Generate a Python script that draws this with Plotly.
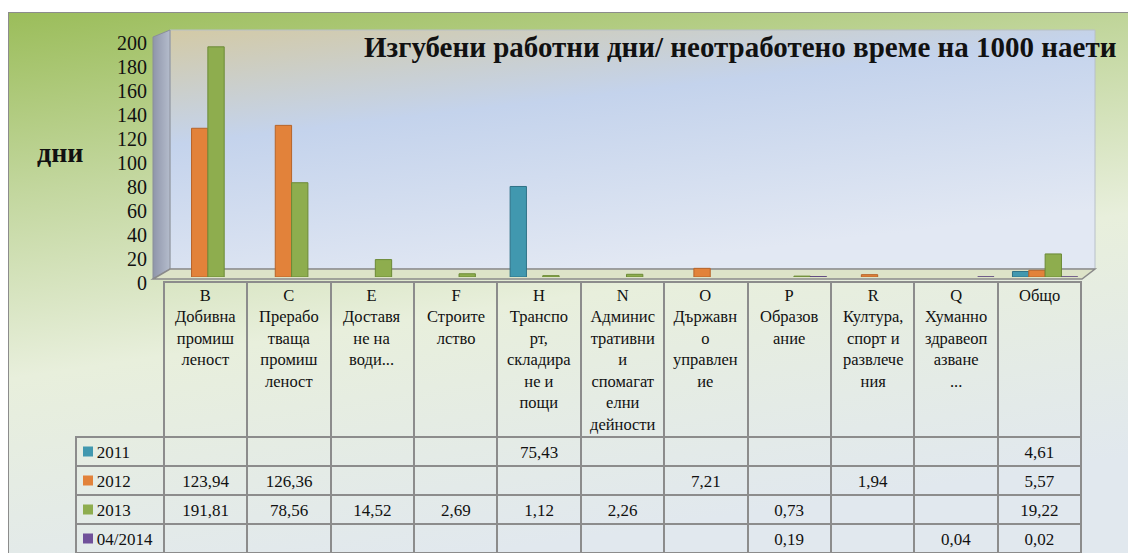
import base64
import plotly.graph_objects as go

# ---- data ----
codes = ["B", "C", "E", "F", "H", "N", "O", "P", "R", "Q", "Общо"]
header_labels = [
    "B<br>Добивна<br>промиш<br>леност",
    "C<br>Прерабо<br>тваща<br>промиш<br>леност",
    "E<br>Доставя<br>не на<br>води...",
    "F<br>Строите<br>лство",
    "H<br>Транспо<br>рт,<br>складира<br>не и<br>пощи",
    "N<br>Админис<br>тративни<br>и<br>спомагат<br>елни<br>дейности",
    "O<br>Държавн<br>о<br>управлен<br>ие",
    "P<br>Образов<br>ание",
    "R<br>Култура,<br>спорт и<br>развлече<br>ния",
    "Q<br>Хуманно<br>здравеоп<br>азване<br>...",
    "Общо",
]
series_names = ["2011", "2012", "2013", "04/2014"]
v2011 = [None, None, None, None, 75.43, None, None, None, None, None, 4.61]
v2012 = [123.94, 126.36, None, None, None, None, 7.21, None, 1.94, None, 5.57]
v2013 = [191.81, 78.56, 14.52, 2.69, 1.12, 2.26, None, 0.73, None, None, 19.22]
v2014 = [None, None, None, None, None, None, None, 0.19, None, 0.04, 0.02]
y_ticks = [0, 20, 40, 60, 80, 100, 120, 140, 160, 180, 200]

series_values = [v2011, v2012, v2013, v2014]
colors = ["#4198AF", "#E2823A", "#8EAD4E", "#70519A"]
edge_colors = ["#2f7286", "#b7642a", "#6c8a37", "#553b7a"]

W, H = 1128, 553
FONT = "Liberation Serif"

# table geometry (pixels)
TBL_L, TBL_R, TBL_T = 76, 1081, 282
LBL_W = 88
HDR_H, ROW_H = 155, 29
COL_W = (TBL_R - TBL_L - LBL_W) / len(codes)


def px_x(p):
    return p / W


def px_y(p):
    return 1 - p / H


def fmt(v):
    return "" if v is None else ("%.2f" % v).replace(".", ",")


# background: outer gradient, 3D walls and floor as an svg image
svg = f"""<svg xmlns='http://www.w3.org/2000/svg' width='{W}' height='{H}' viewBox='0 0 {W} {H}' preserveAspectRatio='none'>
<defs>
<linearGradient id='o' x1='0' y1='0' x2='0.3' y2='1'>
<stop offset='0' stop-color='#9bbd5a'/>
<stop offset='0.3' stop-color='#c3d79f'/>
<stop offset='0.6' stop-color='#e8efdc'/>
<stop offset='1' stop-color='#e1e8ee'/>
</linearGradient>
<linearGradient id='w' x1='0' y1='0' x2='0.45' y2='1'>
<stop offset='0' stop-color='#d3caa6'/>
<stop offset='0.4' stop-color='#c4d3ec'/>
<stop offset='1' stop-color='#e2e8f3'/>
</linearGradient>
<linearGradient id='lw' x1='0' y1='0' x2='1' y2='0'>
<stop offset='0' stop-color='#8f95aa'/>
<stop offset='1' stop-color='#b4bccc'/>
</linearGradient>
</defs>
<rect width='{W}' height='{H}' fill='white'/>
<rect x='8.5' y='12.5' width='1140' height='560' fill='url(#o)' stroke='#8c8c8c'/>
<polygon points='170,30 1095,30 1095,269 170,269' fill='url(#w)' stroke='#b8c0c8'/>
<polygon points='153,37 170,30 170,269 153,279' fill='url(#lw)' stroke='#8a8f9a'/>
<polygon points='153,279 170,269 1095,269 1082,279' fill='#dde3c8' stroke='#8a8a8a' stroke-width='1.5'/>
</svg>"""
bg_uri = "data:image/svg+xml;base64," + base64.b64encode(svg.encode("utf-8")).decode("ascii")

fig = go.Figure()

for name, vals, c, ec in zip(series_names, series_values, colors, edge_colors):
    fig.add_trace(go.Bar(
        x=codes, y=vals, name=name,
        marker=dict(color=c, line=dict(color=ec, width=1)),
        showlegend=False,
    ))

# data table under the chart
row_labels = ["\u00a0\u00a0\u00a0" + n for n in series_names]
columns = [row_labels] + [[fmt(s[i]) for s in series_values] for i in range(len(codes))]

grid = "#8c8c8c"
fig.add_trace(go.Table(
    domain=dict(x=[px_x(TBL_L), px_x(TBL_R)], y=[0, px_y(TBL_T)]),
    columnwidth=[LBL_W] + [COL_W] * len(codes),
    header=dict(
        values=[""] * (len(codes) + 1),
        height=HDR_H,
        fill=dict(color="rgba(0,0,0,0)"),
        line=dict(color=["rgba(0,0,0,0)"] + [grid] * len(codes), width=2),
    ),
    cells=dict(
        values=columns,
        align=["left"] + ["center"] * len(codes),
        height=ROW_H,
        font=dict(family=FONT, size=17, color="#111"),
        fill=dict(color="rgba(0,0,0,0)"),
        line=dict(color=grid, width=2),
    ),
))

annotations = [
    dict(text="Изгубени работни дни/ неотработено време на 1000 наети",
         xref="paper", yref="paper", x=px_x(362), y=px_y(47),
         xanchor="left", yanchor="middle", showarrow=False,
         font=dict(family=FONT, size=29, color="#111", weight="bold")),
    dict(text="дни", xref="paper", yref="paper", x=px_x(60), y=px_y(152),
         xanchor="center", yanchor="middle", showarrow=False,
         font=dict(family=FONT, size=28, color="#111", weight="bold")),
]
# header texts, each line centred in its column
for i, lab in enumerate(header_labels):
    cx = TBL_L + LBL_W + COL_W * (i + 0.5)
    annotations.append(dict(
        text=lab, xref="paper", yref="paper", x=px_x(cx), y=px_y(TBL_T + 2),
        xanchor="center", yanchor="top", align="center", showarrow=False,
        font=dict(family=FONT, size=16.5, color="#111")))

# legend keys inside the first table column
shapes = []
for j, c in enumerate(colors):
    cy = TBL_T + HDR_H + ROW_H * (j + 0.5)
    shapes.append(dict(type="rect", xref="paper", yref="paper",
                       x0=px_x(83), x1=px_x(93), y0=px_y(cy - 5), y1=px_y(cy + 5),
                       fillcolor=c, line=dict(width=0)))

fig.update_layout(
    width=W, height=H,
    autosize=False,
    margin=dict(l=0, r=0, t=0, b=0, pad=0),
    paper_bgcolor="white",
    plot_bgcolor="rgba(0,0,0,0)",
    showlegend=False,
    barmode="group",
    bargap=0.22,
    bargroupgap=0,
    images=[dict(source=bg_uri, xref="paper", yref="paper", x=0, y=1,
                 sizex=1, sizey=1, sizing="stretch", layer="below",
                 xanchor="left", yanchor="top")],
    xaxis=dict(domain=[px_x(166), px_x(1087)], showticklabels=False, automargin=False,
               showgrid=False, zeroline=False, showline=False, ticks=""),
    yaxis=dict(domain=[px_y(277), px_y(37)], range=[0, 200], automargin=False,
               tickvals=y_ticks, showgrid=False, zeroline=False, showline=False,
               tickfont=dict(family=FONT, size=20, color="#111"),
               ticklabelstandoff=18, ticklabelshift=6),
    annotations=annotations,
    shapes=shapes,
)

fig.write_html("out.html", config={"displayModeBar": False},
               post_script="document.body.style.margin='0';document.body.style.overflow='hidden';")
